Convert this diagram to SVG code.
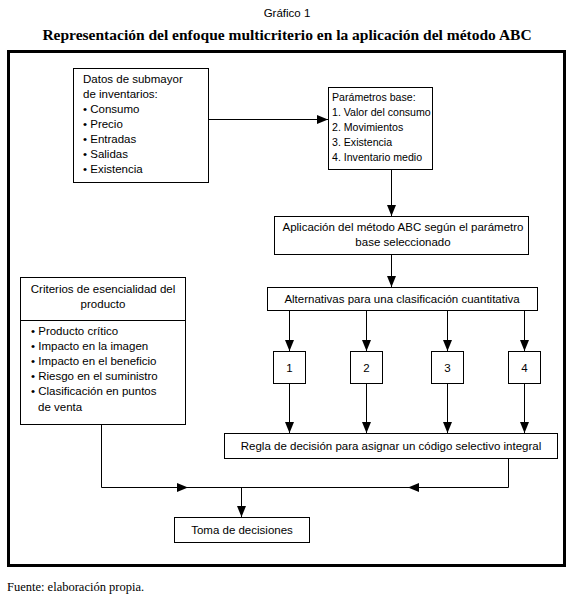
<svg xmlns="http://www.w3.org/2000/svg" width="574" height="608" viewBox="0 0 574 608">
<style>
  .box { fill: #fff; stroke: #000; stroke-width: 1; }
  .t { font-family: "Liberation Sans", Arial, sans-serif; font-size: 11.5px; fill: #000; }
  .p { font-size: 10.6px; }
  .c { text-anchor: middle; }
  .ln { fill: none; stroke: #000; stroke-width: 1; }
</style>
<defs>
  <marker id="ah" markerUnits="userSpaceOnUse" markerWidth="12" markerHeight="10" viewBox="0 0 12 10" refX="11" refY="5" orient="auto">
    <path d="M0,0.5 L11,5 L0,9.5 Z" fill="#000"/>
  </marker>
</defs>
<rect width="574" height="608" fill="#fff"/>
<text x="287" y="17" class="t c" font-size="12.5">Gráfico 1</text>
<text x="287" y="40" text-anchor="middle" font-family="Liberation Serif, 'Times New Roman', serif" font-size="15.5" font-weight="bold">Representación del enfoque multicriterio en la aplicación del método ABC</text>
<rect x="8.5" y="51.5" width="556" height="514" fill="none" stroke="#000" stroke-width="3"/>

<g id="connectors">
  <path class="ln" d="M208.5,119.5 H328" marker-end="url(#ah)"/>
  <path class="ln" d="M391.5,169 V216" marker-end="url(#ah)"/>
  <path class="ln" d="M391.5,255 V287" marker-end="url(#ah)"/>
  <path class="ln" d="M289.5,311 V351" marker-end="url(#ah)"/>
  <path class="ln" d="M366.5,311 V351" marker-end="url(#ah)"/>
  <path class="ln" d="M447.5,311 V351" marker-end="url(#ah)"/>
  <path class="ln" d="M524.5,311 V351" marker-end="url(#ah)"/>
  <path class="ln" d="M289.5,383 V433" marker-end="url(#ah)"/>
  <path class="ln" d="M366.5,383 V433" marker-end="url(#ah)"/>
  <path class="ln" d="M447.5,383 V433" marker-end="url(#ah)"/>
  <path class="ln" d="M524.5,383 V433" marker-end="url(#ah)"/>
  <path class="ln" d="M101.5,424 V487.5 H188" marker-end="url(#ah)"/>
  <path class="ln" d="M188,487.5 H408"/>
  <path class="ln" d="M508.5,459 V487.5 H408" marker-end="url(#ah)"/>
  <path class="ln" d="M241.5,487.5 V517" marker-end="url(#ah)"/>
</g>

<g id="datos">
  <rect class="box" x="73.5" y="68.5" width="135" height="114"/>
  <text class="t" x="83" y="83">Datos de submayor</text>
  <text class="t" x="83" y="98">de inventarios:</text>
  <text class="t" x="83" y="113">• Consumo</text>
  <text class="t" x="83" y="128">• Precio</text>
  <text class="t" x="83" y="143">• Entradas</text>
  <text class="t" x="83" y="158">• Salidas</text>
  <text class="t" x="83" y="173">• Existencia</text>
</g>

<g id="parametros">
  <rect class="box" x="328.5" y="87.5" width="104" height="82"/>
  <text class="t p" x="332" y="101">Parámetros base:</text>
  <text class="t p" x="332" y="116">1. Valor del consumo</text>
  <text class="t p" x="332" y="131">2. Movimientos</text>
  <text class="t p" x="332" y="146">3. Existencia</text>
  <text class="t p" x="332" y="161">4. Inventario medio</text>
</g>

<g id="abc">
  <rect class="box" x="274.5" y="216.5" width="254" height="38"/>
  <text class="t c" x="403" y="231">Aplicación del método ABC según el parámetro</text>
  <text class="t c" x="403" y="246">base seleccionado</text>
</g>

<g id="alternativas">
  <rect class="box" x="267.5" y="287.5" width="270" height="23"/>
  <text class="t c" x="402" y="303">Alternativas para una clasificación cuantitativa</text>
</g>

<g id="alt1"><rect class="box" x="273.5" y="351.5" width="32" height="32"/><text class="t c" x="289.5" y="372">1</text></g>
<g id="alt2"><rect class="box" x="350.5" y="351.5" width="32" height="32"/><text class="t c" x="366.5" y="372">2</text></g>
<g id="alt3"><rect class="box" x="431.5" y="351.5" width="32" height="32"/><text class="t c" x="447.5" y="372">3</text></g>
<g id="alt4"><rect class="box" x="508.5" y="351.5" width="32" height="32"/><text class="t c" x="524.5" y="372">4</text></g>

<g id="criterios">
  <rect class="box" x="20.5" y="277.5" width="165" height="147"/>
  <line class="ln" x1="20.5" y1="320.5" x2="185.5" y2="320.5"/>
  <text class="t c" x="103" y="293">Criterios de esencialidad del</text>
  <text class="t c" x="103" y="308">producto</text>
  <text class="t" x="31" y="335">• Producto crítico</text>
  <text class="t" x="31" y="350">• Impacto en la imagen</text>
  <text class="t" x="31" y="365">• Impacto en el beneficio</text>
  <text class="t" x="31" y="380">• Riesgo en el suministro</text>
  <text class="t" x="31" y="395">• Clasificación en puntos</text>
  <text class="t" x="38" y="411">de venta</text>
</g>

<g id="regla">
  <rect class="box" x="224.5" y="433.5" width="333" height="25"/>
  <text class="t c" x="391" y="450">Regla de decisión para asignar un código selectivo integral</text>
</g>

<g id="toma">
  <rect class="box" x="174.5" y="517.5" width="135" height="25"/>
  <text class="t c" x="242" y="534">Toma de decisiones</text>
</g>

<text x="7" y="591" font-family="Liberation Serif, 'Times New Roman', serif" font-size="12.5">Fuente: elaboración propia.</text>
</svg>
